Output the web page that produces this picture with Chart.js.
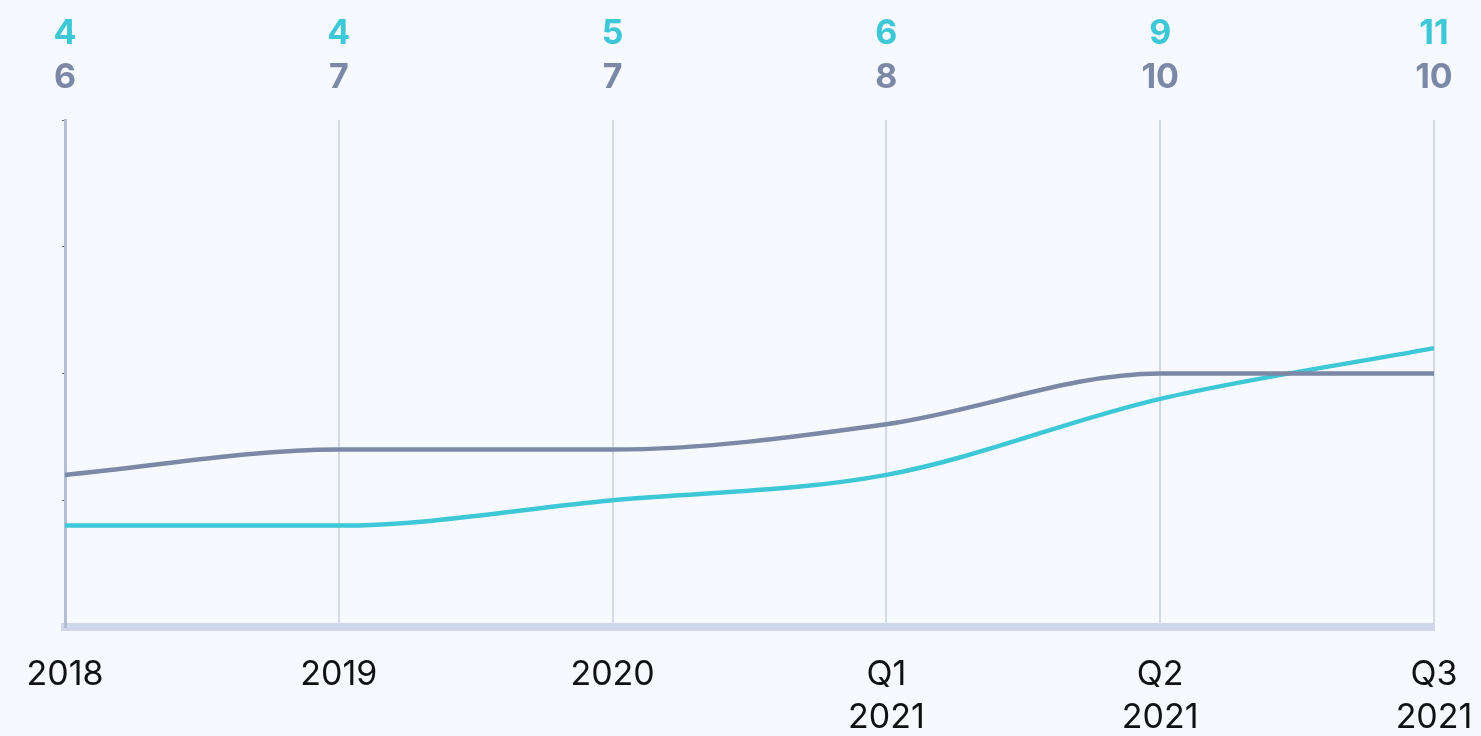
<!DOCTYPE html>
<html>
<head>
<meta charset="utf-8">
<script src="https://cdn.jsdelivr.net/npm/chart.js@4.4.0/dist/chart.umd.min.js"></script>
<style>
  html, body { margin: 0; padding: 0; background: #f6f9fe; }
  #wrap { width: 1481px; height: 736px; position: relative; }
  canvas { display: block; }
</style>
</head>
<body>
<div id="wrap"><canvas id="c" width="1481" height="736"></canvas></div>
<script>
const categories = [["2018"], ["2019"], ["2020"], ["Q1", "2021"], ["Q2", "2021"], ["Q3", "2021"]];
const grayValues = [6, 7, 7, 8, 10, 10];
const tealValues = [4, 4, 5, 6, 9, 11];
const yTicks = { min: 0, max: 20, step: 5 };

const TEAL = '#3ec8d7';
const GRAY = '#7c89a6';

const topLabels = {
  id: 'topLabels',
  afterDraw(chart) {
    const ctx = chart.ctx;
    const x = chart.scales.x;
    ctx.save();
    ctx.font = 'bold 34px Inter, "Noto Sans", sans-serif';
    ctx.textAlign = 'center';
    ctx.textBaseline = 'middle';
    for (let i = 0; i < categories.length; i++) {
      const px = x.getPixelForValue(i);
      ctx.fillStyle = TEAL;
      ctx.fillText(String(tealValues[i]), px, 34);
      ctx.fillStyle = GRAY;
      ctx.fillText(String(grayValues[i]), px, 78);
    }
    ctx.restore();
  }
};

new Chart(document.getElementById('c'), {
  type: 'line',
  data: {
    labels: categories,
    datasets: [
      { data: grayValues, borderColor: GRAY, borderWidth: 4.5, pointRadius: 0, cubicInterpolationMode: 'monotone', fill: false },
      { data: tealValues, borderColor: TEAL, borderWidth: 4.5, pointRadius: 0, cubicInterpolationMode: 'monotone', fill: false }
    ]
  },
  options: {
    responsive: false,
    animation: false,
    layout: { padding: { top: 120, right: 47, left: 0, bottom: 0 } },
    plugins: { legend: { display: false }, tooltip: { enabled: false } },
    scales: {
      x: {
        offset: false,
        grid: { color: '#d3dbe8', lineWidth: 2, drawTicks: false },
        border: { color: '#cfd8ea', width: 8 },
        ticks: {
          color: '#111111',
          font: { family: 'Inter, "Noto Sans", sans-serif', size: 34, lineHeight: 1.27 },
          padding: 26,
          maxRotation: 0,
          autoSkip: false
        },
        afterFit(scale) { scale.height = 109; scale.paddingRight = 0; scale.paddingLeft = 0; }
      },
      y: {
        min: yTicks.min,
        max: yTicks.max,
        ticks: { stepSize: yTicks.step, display: false },
        grid: { drawOnChartArea: false, drawTicks: true, tickLength: 3, color: '#5f6a85' },
        border: { color: '#b3bdd5', width: 3 },
        afterFit(scale) { scale.width = 65; }
      }
    }
  },
  plugins: [topLabels]
});
</script>
</body>
</html>
